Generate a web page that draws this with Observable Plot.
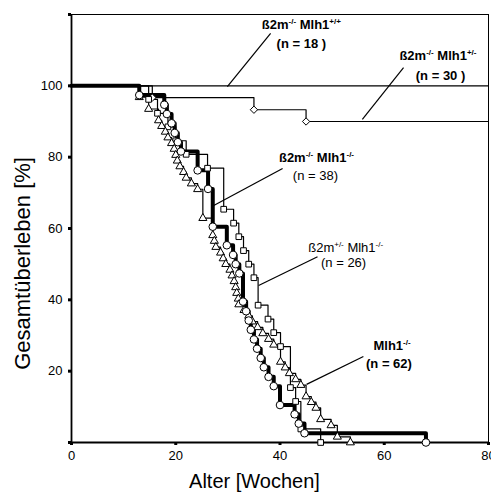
<!DOCTYPE html>
<html><head><meta charset="utf-8">
<script src="https://cdn.jsdelivr.net/npm/d3@7"></script>
<script src="https://cdn.jsdelivr.net/npm/@observablehq/plot@0.6"></script>
<style>html,body{margin:0;padding:0;background:#fff}#chart svg{display:block}</style>
</head><body><div id="chart"></div>
<script>
// ---- axes ----
const xTicks = [0, 20, 40, 60, 80];
const yTicks = [0, 20, 40, 60, 80, 100, 120];
const yTickLabels = ["", "20", "40", "60", "80", "100", ""];
const xTitle = "Alter [Wochen]";
const yTitle = "Gesamtüberleben [%]";

// ---- groups ----
const groupNames = ["ß2m{-/-} Mlh1{+/+}", "ß2m{-/-} Mlh1{+/-}", "ß2m{-/-} Mlh1{-/-}", "ß2m{+/-} Mlh1{-/-}", "Mlh1{-/-}"];
const groupNLabels = ["(n = 18 )", "(n = 30 )", "(n = 38)", "(n = 26)", "(n = 62)"];

// ---- survival curves (weeks, % surviving) ----
const wtWeeks = [0, 80];
const wtSurv = [100, 100];

const hetWeeks = [0, 15.5, 35, 45, 80];
const hetSurv = [100, 96.7, 93.3, 90, 90];

const koWeeks = [0, 13, 17.8, 18.3, 19.2, 19.8, 20.4, 21.0, 24.2, 26.2, 27.1, 29.8, 31.0, 31.5, 32.2, 32.9, 33.5, 34.0, 34.4, 35.0, 35.6, 36.3, 36.9, 37.8, 38.8, 40.0, 42.8, 43.6, 44.7, 68.0];
const koSurv = [100, 97.4, 94.7, 92.1, 89.5, 86.8, 84.2, 81.6, 76.3, 71.1, 60.5, 55.3, 52.6, 50.0, 47.4, 39.5, 36.8, 34.2, 31.6, 28.9, 26.3, 23.7, 21.1, 18.4, 15.8, 10.5, 7.9, 5.3, 2.6, 0];

const b2hetWeeks = [0, 14.8, 16.5, 18.5, 20.0, 22.0, 26.1, 29.2, 31.1, 32.1, 33.0, 34.0, 35.0, 35.8, 37.7, 38.8, 40.1, 42.0, 43.0, 44.0, 47.8];
const b2hetSurv = [100, 96.2, 92.3, 88.5, 84.6, 80.8, 76.9, 65.4, 61.5, 57.7, 53.8, 50.0, 46.2, 38.5, 34.6, 30.8, 26.9, 15.4, 11.5, 3.8, 0];

const mlhWeeks = [0, 13, 14.8, 16.7, 17.3, 18.0, 18.5, 19.2, 19.7, 20.0, 20.3, 20.8, 21.5, 22.0, 23.0, 24.2, 25.2, 27.1, 27.4, 27.7, 28.6, 29.1, 29.6, 30.4, 30.8, 31.2, 31.5, 31.7, 32.0, 32.1, 33.1, 34.0, 34.7, 35.7, 36.7, 37.8, 38.8, 40.1, 41.0, 41.8, 43.0, 44.0, 45.0, 46.0, 46.9, 47.8, 49.8, 51.0, 53.5];
const mlhSurv = [100, 96.8, 93.5, 90.3, 88.7, 87.1, 85.5, 83.9, 82.3, 80.6, 79.0, 77.4, 75.8, 74.2, 72.6, 71.0, 62.9, 58.1, 56.5, 54.8, 53.2, 51.6, 50.0, 48.4, 46.8, 45.2, 43.5, 41.9, 40.3, 38.7, 37.1, 35.5, 33.9, 32.3, 30.6, 29.0, 27.4, 22.6, 21.0, 19.4, 17.7, 16.1, 12.9, 11.3, 9.7, 6.5, 4.8, 1.6, 0];

// ---- annotation placement (data units) ----
const annotations = [
  {g: 0, tx: 44.1, ty: 117.2, nx: 44.1, ny: 111.9, tb: "bold", nb: "bold", x1: 38.2, y1: 114.7, x2: 29.9, y2: 99.8},
  {g: 1, tx: 70.3, ty: 108.5, nx: 70.8, ny: 102.9, tb: "bold", nb: "bold", x1: 63.7, y1: 105.1, x2: 55.8, y2: 90.6},
  {g: 2, tx: 47.0, ty: 79.9, nx: 46.8, ny: 74.9, tb: "bold", nb: "normal", x1: 40.5, y1: 76.8, x2: 27.2, y2: 66.4},
  {g: 3, tx: 52.6, ty: 54.7, nx: 52.2, ny: 50.5, tb: "normal", nb: "normal", x1: 47.2, y1: 52.1, x2: 35.9, y2: 44.0},
  {g: 4, tx: 61.5, ty: 27.2, nx: 60.9, ny: 22.1, tb: "bold", nb: "bold", x1: 56.0, y1: 24.1, x2: 45.1, y2: 16.3}
];

const pts = (w, s) => w.map((d, i) => ({week: d, surv: s[i]}));
const wt = pts(wtWeeks, wtSurv);
const het = pts(hetWeeks, hetSurv);
const ko = pts(koWeeks, koSurv);
const b2het = pts(b2hetWeeks, b2hetSurv);
const mlh = pts(mlhWeeks, mlhSurv);

const dotStyle = {x: "week", y: "surv", fill: "white", stroke: "black", strokeWidth: 1};
const lineStyle = {x: "week", y: "surv", curve: "step-after", stroke: "black"};

const annotMarks = [];
for (const a of annotations) {
  annotMarks.push(Plot.text([a], {x: "tx", y: "ty", text: () => groupNames[a.g], fontSize: 13, fontWeight: a.tb, fill: "black"}));
  annotMarks.push(Plot.text([a], {x: "nx", y: "ny", text: () => groupNLabels[a.g], fontSize: 13, fontWeight: a.nb, fill: "black"}));
}

const plot = Plot.plot({
  width: 491, height: 502,
  marginLeft: 71, marginRight: 3, marginTop: 14, marginBottom: 60,
  x: {domain: [0, 80]},
  y: {domain: [0, 120]},
  style: {fontFamily: "'Liberation Sans', Arial, sans-serif", fontSize: "13px", color: "black", background: "white"},
  marks: [
    Plot.frame({stroke: "black", strokeWidth: 1}),
    Plot.ruleX([0], {stroke: "black", strokeWidth: 1.8}),
    Plot.ruleY([0], {stroke: "black", strokeWidth: 1.8}),
    Plot.axisX({ticks: xTicks, tickSize: 3, strokeWidth: 3, tickPadding: 5, fontSize: 13, label: null}),
    Plot.axisY({ticks: yTicks, tickSize: 3, strokeWidth: 3, tickPadding: 6, fontSize: 13, label: null,
      tickFormat: d => yTickLabels[yTicks.indexOf(d)]}),
    Plot.line(wt, {...lineStyle, strokeWidth: 1.2}),
    Plot.line(het, {...lineStyle, strokeWidth: 1.2}),
    Plot.line(b2het, {...lineStyle, strokeWidth: 1.2}),
    Plot.line(mlh, {...lineStyle, strokeWidth: 1.2}),
    Plot.line(ko, {...lineStyle, strokeWidth: 4}),
    Plot.dot(het.slice(1, -1), {...dotStyle, symbol: "diamond2", r: 3.3}),
    Plot.dot(b2het.slice(1), {...dotStyle, symbol: "square", r: 3.2}),
    Plot.dot(mlh.slice(1), {...dotStyle, symbol: "triangle", r: 3.0}),
    Plot.dot(ko.slice(1), {...dotStyle, symbol: "circle", r: 3.8}),
    Plot.link(annotations, {x1: "x1", y1: "y1", x2: "x2", y2: "y2", stroke: "black", strokeWidth: 1.2}),
    ...annotMarks,
    Plot.text([{x: -9.4, y: 50.2}], {x: "x", y: "y", text: () => yTitle, rotate: -90, fontSize: 22, fill: "black"}),
    Plot.text([{x: 35.1, y: -10.9}], {x: "x", y: "y", text: () => xTitle, fontSize: 20, fill: "black"})
  ]
});

// superscripts: turn {..} into raised small tspans
plot.querySelectorAll("text").forEach(t => {
  const s = t.textContent;
  if (!s.includes("{")) return;
  t.textContent = "";
  const re = /([^{}]+)|\{([^}]+)\}/g;
  let m, raised = false;
  while ((m = re.exec(s))) {
    const ts = document.createElementNS("http://www.w3.org/2000/svg", "tspan");
    if (m[1] !== undefined) {
      ts.textContent = m[1];
      if (raised) { ts.setAttribute("dy", "5"); raised = false; }
    } else {
      ts.textContent = m[2];
      ts.setAttribute("font-size", "8");
      ts.setAttribute("dy", "-5");
      raised = true;
    }
    t.appendChild(ts);
  }
});

document.getElementById("chart").appendChild(plot);
</script>
</body></html>
